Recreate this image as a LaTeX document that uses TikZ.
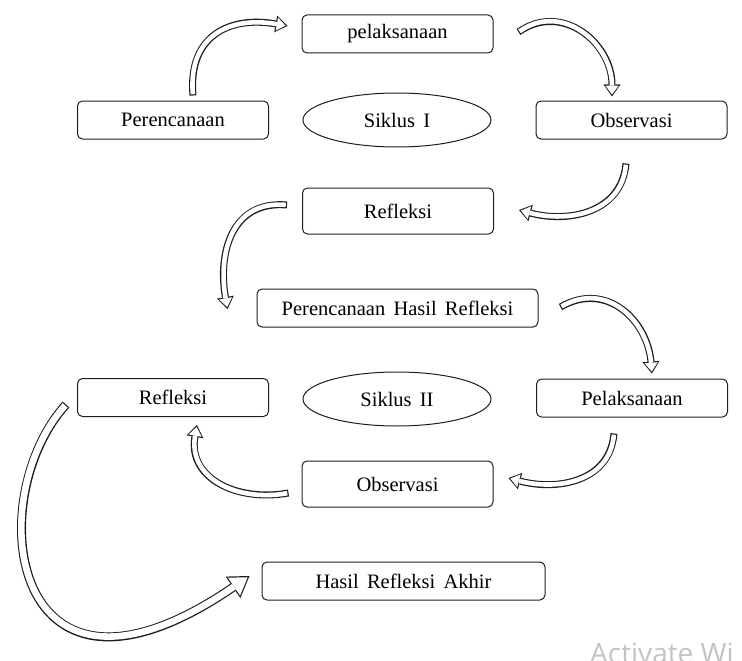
\documentclass[tikz,border=0pt]{standalone}
\usepackage{fontspec}
\setmainfont[WordSpace=1.6]{Liberation Serif}
\newfontfamily\winfont{Open Sans}
\usetikzlibrary{shapes.geometric,arrows.meta}

\begin{document}
\begin{tikzpicture}[x=1pt,y=1pt,
	box/.style={draw=boxline, line width=1pt, rounded corners=5pt, minimum width=191pt, minimum height=38pt, inner sep=0pt, font=\fontsize{20.5}{24}\selectfont},
	siklus/.style={draw=boxline, line width=1pt, ellipse, minimum width=188pt, minimum height=54pt, inner sep=0pt, font=\fontsize{20.5}{24}\selectfont},
	hollow/.style={preaction={draw=boxline, line width=7pt, shorten <=0pt, shorten >=0pt, -{Triangle[width=17pt, length=12pt, line width=0pt]}}, draw=white, line width=4.6pt, shorten <=1.2pt, shorten >=2pt, -{Triangle[width=13.2pt, length=8.8pt, line width=0pt]}},
	bighollow/.style={preaction={draw=boxline, line width=9pt, shorten <=0pt, shorten >=0pt, -{Triangle[width=26pt, length=20pt, line width=0pt]}}, draw=white, line width=6.6pt, shorten <=1.2pt, shorten >=2.2pt, -{Triangle[width=21.6pt, length=16.6pt, line width=0pt]}}]
	\definecolor{boxline}{RGB}{30,30,30}
	\definecolor{watermark}{RGB}{195,195,195}

	\useasboundingbox (0,0) rectangle (742,-661);
	\clip (0,0) rectangle (742,-661);

	\node[box] (pel1) at (397.5,-34) {pelaksanaan};
	\node[box] (per) at (173,-120) {Perencanaan};
	\node[siklus] (s1) at (397,-120) {Siklus I};
	\node[box] (obs1) at (631.5,-120) {Observasi};
	\node[box, minimum height=46pt] (ref1) at (398,-211) {Refleksi};
	\node[box, minimum width=281pt] (phr) at (397.5,-308) {Perencanaan Hasil Refleksi};
	\node[siklus] (s2) at (397,-399) {Siklus II};
	\node[box] (ref2) at (173,-397.5) {Refleksi};
	\node[box] (pel2) at (632,-398) {Pelaksanaan};
	\node[box, minimum height=46pt] (obs2) at (397.5,-484) {Observasi};
	\node[box, minimum width=283pt] (hra) at (403.5,-581) {Hasil Refleksi Akhir};

	\draw[hollow] ([xshift=20pt,yshift=5pt]per.north) to[out=95,in=170,looseness=1.3] ([xshift=-14pt,yshift=8pt]pel1.west);
	\draw[hollow] ([xshift=25pt,yshift=2pt]pel1.east) to[out=35,in=90,looseness=1.2] ([xshift=-19.5pt,yshift=4pt]obs1.north);
	\draw[hollow] ([xshift=-5.5pt,yshift=-24pt]obs1.south) to[out=-95,in=-15,looseness=1.1] ([xshift=25pt,yshift=1pt]ref1.east);
	\draw[hollow] ([xshift=-15pt,yshift=6pt]ref1.west) to[out=175,in=100,looseness=1.2] ([xshift=-29pt,yshift=-1pt]phr.west);
	\draw[hollow] ([xshift=22pt,yshift=1pt]phr.east) to[out=30,in=95,looseness=1.2] ([xshift=20pt,yshift=5pt]pel2.north);
	\draw[hollow] ([xshift=-18pt,yshift=-16pt]pel2.south) to[out=-95,in=-15,looseness=1.1] ([xshift=15pt,yshift=6pt]obs2.east);
	\draw[hollow] ([xshift=-13pt,yshift=-9pt]obs2.west) to[out=190,in=-100,looseness=1.2] ([xshift=24pt,yshift=-8pt]ref2.south);
	\draw[bighollow] ([xshift=-11pt,yshift=-7pt]ref2.west) .. controls (-20,-500) and (10,-740) .. ([xshift=-12pt,yshift=5pt]hra.west);

	\node[anchor=base west, inner sep=0pt, text=watermark, font=\winfont\fontsize{28}{30}\selectfont] (win) at (590,-663) {Activate Wi};
\end{tikzpicture}
\end{document}
